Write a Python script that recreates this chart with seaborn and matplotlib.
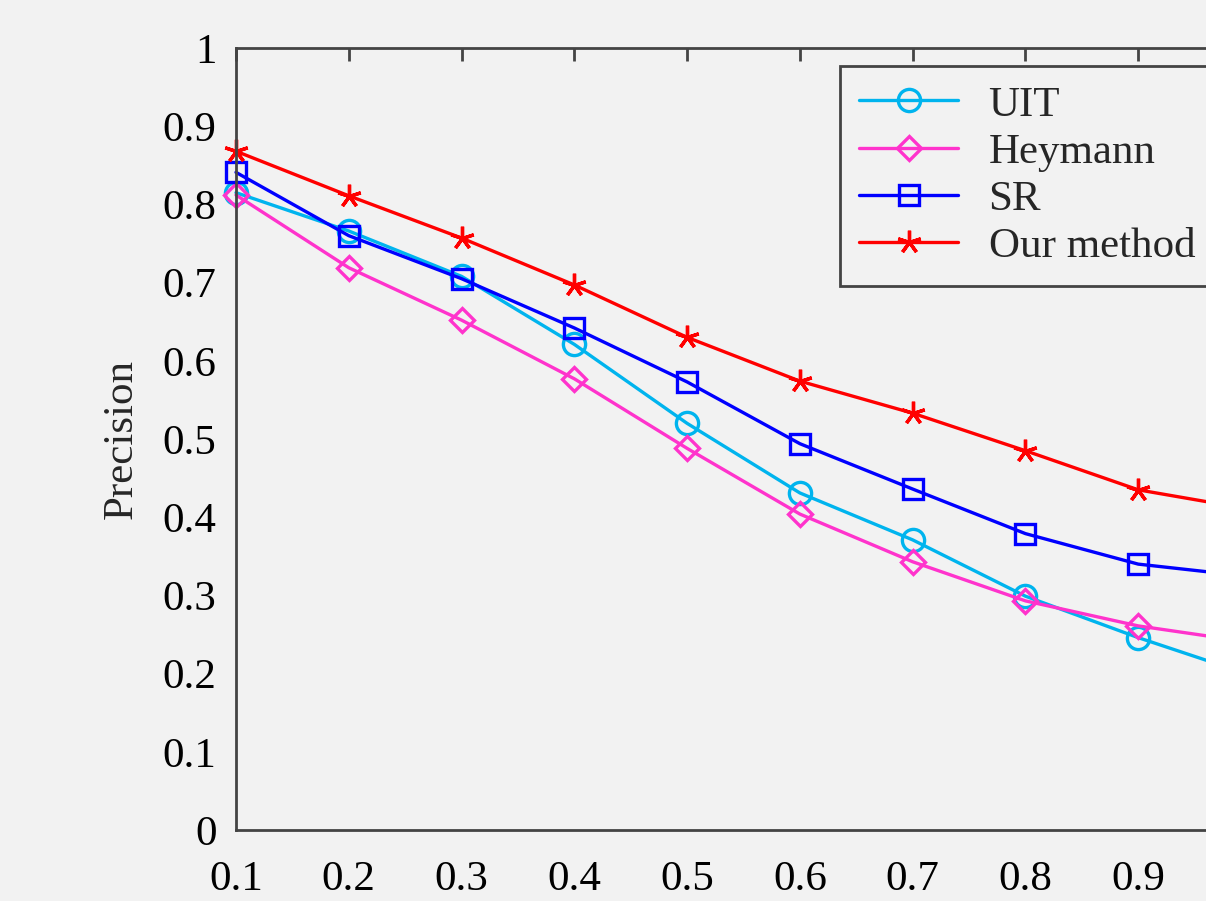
import matplotlib
matplotlib.use("Agg")
import matplotlib.pyplot as plt
import seaborn as sns
import pandas as pd

x_vals = [0.1, 0.2, 0.3, 0.4, 0.5, 0.6, 0.7, 0.8, 0.9, 1.0]
uit = [0.815, 0.766, 0.708, 0.621, 0.520, 0.431, 0.371, 0.299, 0.246, 0.198]
heymann = [0.812, 0.719, 0.652, 0.577, 0.488, 0.404, 0.343, 0.293, 0.261, 0.240]
sr = [0.841, 0.760, 0.705, 0.642, 0.573, 0.494, 0.436, 0.379, 0.340, 0.324]
ours = [0.868, 0.811, 0.757, 0.697, 0.630, 0.574, 0.533, 0.485, 0.435, 0.410]
series_names = ["UIT", "Heymann", "SR", "Our method"]
x_ticks = [0.1, 0.2, 0.3, 0.4, 0.5, 0.6, 0.7, 0.8, 0.9]
y_ticks = [0, 0.1, 0.2, 0.3, 0.4, 0.5, 0.6, 0.7, 0.8, 0.9, 1]

sns.set_style("white")
bg = "#f2f2f2"
axc = "#444444"
plt.rcParams["font.family"] = ["Liberation Serif", "DejaVu Serif"]
fs = 31

fig = plt.figure(figsize=(12.06, 9.01), dpi=100, facecolor=bg)
ax = fig.add_axes([236 / 1206, 71 / 901, (1251 - 236) / 1206, (830 - 48) / 901])
ax.set_facecolor(bg)

styles = {
    "UIT": dict(color="#00b4ee", marker="o", ms=16),
    "Heymann": dict(color="#ff33cc", marker="D", ms=12.5),
    "SR": dict(color="#0000ff", marker="s", ms=15),
    "Our method": dict(color="#ff0000", marker=(5, 2, 0), ms=17),
}

for name, vals in zip(series_names, [uit, heymann, sr, ours]):
    df = pd.DataFrame({"x": x_vals, "y": vals})
    st = styles[name]
    sns.lineplot(data=df, x="x", y="y", ax=ax, color=st["color"], marker=st["marker"],
                 markersize=st["ms"], markerfacecolor="none",
                 markeredgecolor=st["color"], markeredgewidth=2.4, linewidth=2.4,
                 label=name, clip_on=False)

ax.set_xlim(0.1, 1.0)
ax.set_ylim(0, 1)
ax.set_xticks(x_ticks)
ax.set_xticklabels([f"{t:g}" for t in x_ticks])
ax.set_yticks(y_ticks)
ax.set_yticklabels([f"{t:g}" for t in y_ticks])
ax.tick_params(axis="both", direction="in", length=9, width=2, color=axc,
               labelsize=fs, top=True, right=True, labelcolor="black")
ax.tick_params(axis="x", pad=22)
ax.tick_params(axis="y", pad=14)
for sp in ax.spines.values():
    sp.set_color(axc)
    sp.set_linewidth(2)
ax.set_xlabel("")
ax.set_ylabel("Precision", fontsize=fs, labelpad=16)

top = 1 - 66 / 901
x0 = 840 / 1206
leg = ax.legend(loc="upper left", bbox_to_anchor=(x0, 0.4, 1.03 - x0, top - 0.4),
                bbox_transform=fig.transFigure, mode="expand", fontsize=fs, frameon=True,
                fancybox=False, handlelength=2.3, handletextpad=0.7,
                labelspacing=0.19, borderpad=0.45, borderaxespad=0)
leg.get_frame().set_edgecolor(axc)
leg.get_frame().set_linewidth(2)
leg.get_frame().set_facecolor(bg)
leg.get_frame().set_alpha(1)

fig.savefig("out.png", dpi=100, facecolor=bg)
